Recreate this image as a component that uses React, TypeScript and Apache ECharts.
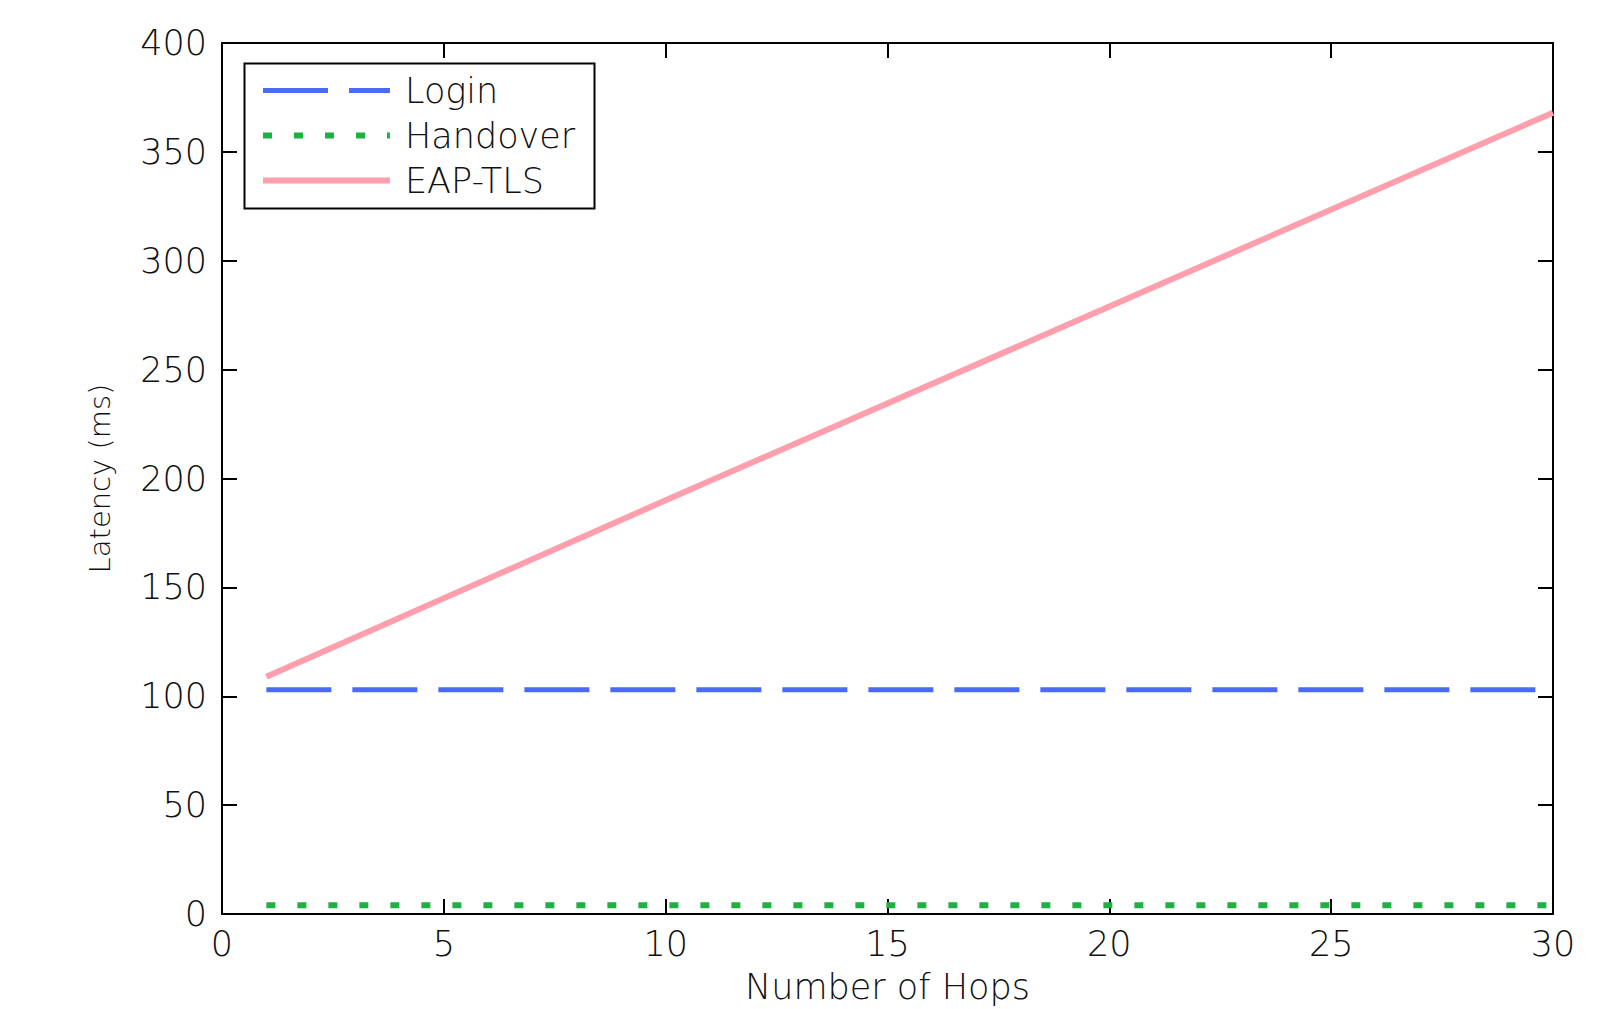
import React, { useEffect, useRef } from "react";
import * as echarts from "echarts";

const hops = [1, 30];
const loginLatency = [103, 103];
const handoverLatency = [4, 4];
const eapTlsHops = [1, 10, 20, 30];
const eapTlsLatency = [109, 190, 279, 368];
const seriesNames = ["Login", "Handover", "EAP-TLS"];
const colors = ["#4a6cf2", "#1fb044", "#ff9fae"];
const dashes = [[65, 21], [9, 22], "solid"];
const widths = [5, 6, 6];

const FONT = "DejaVu Sans";
const WEIGHT = 200;

export default function App() {
  const ref = useRef<HTMLDivElement>(null);
  useEffect(() => {
    document.body.style.margin = "0";
    const chart = echarts.init(ref.current!, null, { renderer: "svg", width: 1598, height: 1009 });
    const tickCommon = { show: true, inside: true, length: 15, lineStyle: { color: "#000", width: 2 } };
    chart.setOption({
      animation: false,
      backgroundColor: "#fff",
      grid: { left: 222, width: 1331, top: 43, height: 878, containLabel: false },
      legend: {
        orient: "vertical",
        left: 260,
        top: 73,
        padding: 0,
        itemGap: 10,
        itemWidth: 127,
        itemHeight: 6,
        itemStyle: { opacity: 0 },
        data: seriesNames.map((n, i) => ({
          name: n,
          lineStyle: { color: colors[i], width: widths[i], type: dashes[i] },
        })),
        textStyle: { fontFamily: FONT, fontWeight: WEIGHT, fontSize: 35, color: "#111", padding: [0, 0, 0, 10], lineHeight: 34 },
      },
      xAxis: [
        {
          type: "value",
          min: 0,
          max: 30,
          interval: 5,
          name: "Number of Hops",
          nameLocation: "middle",
          nameGap: 55,
          nameTextStyle: { fontFamily: FONT, fontWeight: WEIGHT, fontSize: 35, color: "#111" },
          axisLine: { show: true, onZero: false, lineStyle: { color: "#000", width: 2 } },
          axisTick: tickCommon,
          axisLabel: { fontFamily: FONT, fontWeight: WEIGHT, fontSize: 35, color: "#111", margin: 12 },
          splitLine: { show: false },
        },
        {
          type: "value",
          position: "top",
          min: 0,
          max: 30,
          interval: 5,
          axisLine: { show: true, onZero: false, lineStyle: { color: "#000", width: 2 } },
          axisTick: tickCommon,
          axisLabel: { show: false },
          splitLine: { show: false },
        },
      ],
      yAxis: [
        {
          type: "value",
          min: 0,
          max: 400,
          interval: 50,
          name: "Latency (ms)",
          nameLocation: "middle",
          nameGap: 108,
          nameRotate: 90,
          nameTextStyle: { fontFamily: FONT, fontWeight: WEIGHT, fontSize: 29, color: "#111" },
          axisLine: { show: true, onZero: false, lineStyle: { color: "#000", width: 2 } },
          axisTick: tickCommon,
          axisLabel: { fontFamily: FONT, fontWeight: WEIGHT, fontSize: 35, color: "#111", margin: 15 },
          splitLine: { show: false },
        },
        {
          type: "value",
          position: "right",
          min: 0,
          max: 400,
          interval: 50,
          axisLine: { show: true, onZero: false, lineStyle: { color: "#000", width: 2 } },
          axisTick: tickCommon,
          axisLabel: { show: false },
          splitLine: { show: false },
        },
      ],
      graphic: [
        {
          type: "rect",
          left: 242,
          top: 61,
          shape: { width: 350, height: 145 },
          style: { fill: "none", stroke: "#000", lineWidth: 2 },
          z: 100,
        },
      ],
      series: [
        {
          name: seriesNames[0],
          type: "line",
          showSymbol: false,
          symbol: "none",
          color: colors[0],
          lineStyle: { color: colors[0], width: widths[0], type: dashes[0] },
          data: hops.map((h, i) => [h, loginLatency[i]]),
        },
        {
          name: seriesNames[1],
          type: "line",
          showSymbol: false,
          symbol: "none",
          color: colors[1],
          lineStyle: { color: colors[1], width: widths[1], type: dashes[1] },
          data: hops.map((h, i) => [h, handoverLatency[i]]),
        },
        {
          name: seriesNames[2],
          type: "line",
          showSymbol: false,
          symbol: "none",
          color: colors[2],
          lineStyle: { color: colors[2], width: widths[2] },
          data: eapTlsHops.map((h, i) => [h, eapTlsLatency[i]]),
        },
      ],
    });
    return () => chart.dispose();
  }, []);
  return <div ref={ref} style={{ width: 1598, height: 1009 }} />;
}
